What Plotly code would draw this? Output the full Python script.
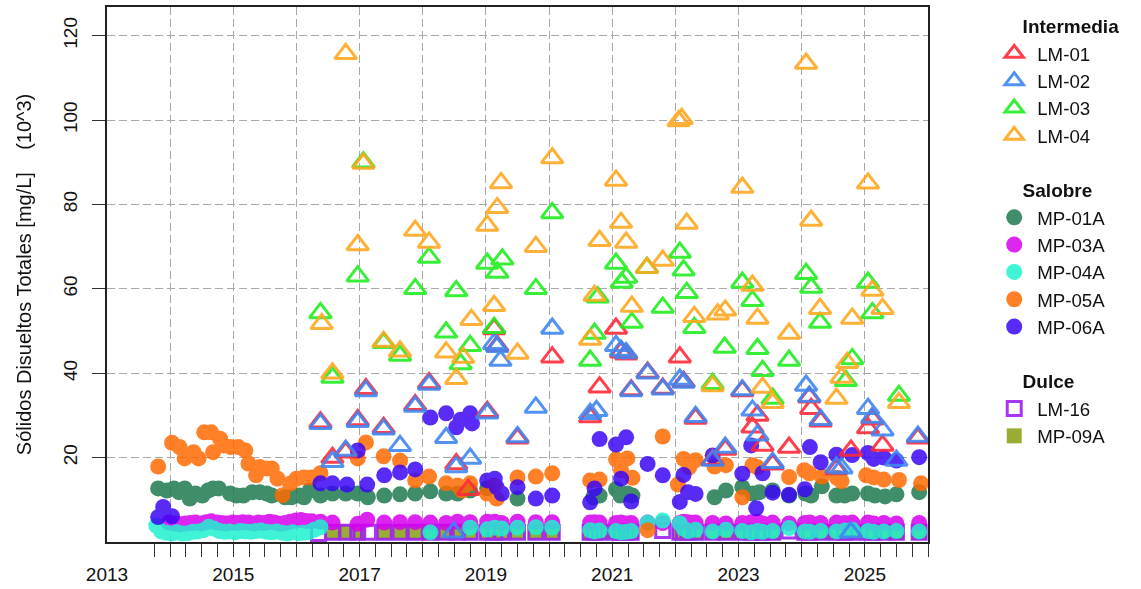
import plotly.graph_objects as go

# ---------------- DATA ----------------
lm01_x = [2016.38, 2016.57, 2016.78, 2016.97, 2017.10, 2017.38, 2017.88, 2018.10, 2018.53, 2018.72,
          2019.02, 2019.13, 2019.18, 2019.50, 2020.05, 2020.65, 2020.80, 2021.06, 2021.14, 2021.22,
          2021.30, 2021.56, 2021.80, 2022.07, 2022.13, 2022.32, 2022.59, 2022.79, 2023.06, 2023.22,
          2023.30, 2023.38, 2023.54, 2023.80, 2024.12, 2024.15, 2024.30, 2024.55, 2024.78, 2025.05,
          2025.12, 2025.28, 2025.84]
lm01_y = [28.4, 20.0, 21.3, 28.9, 36.3, 27.1, 32.5, 37.7, 18.5, 12.4,
          30.9, 50.5, 46.5, 24.6, 43.8, 29.6, 36.7, 50.6, 45.0, 44.5,
          36.0, 40.2, 36.4, 43.8, 38.0, 29.3, 19.5, 21.9, 35.8, 27.2,
          30.0, 22.9, 18.4, 22.4, 34.3, 31.6, 28.6, 17.3, 21.7, 27.0,
          29.1, 22.9, 24.6]

lm02_x = [2016.38, 2016.57, 2016.78, 2016.97, 2017.10, 2017.38, 2017.64, 2017.88, 2018.10, 2018.37,
          2018.49, 2018.53, 2018.75, 2019.02, 2019.13, 2019.18, 2019.23, 2019.50, 2019.79, 2020.05,
          2020.65, 2020.75, 2021.06, 2021.14, 2021.22, 2021.30, 2021.56, 2021.80, 2022.07, 2022.13,
          2022.32, 2022.59, 2022.79, 2023.06, 2023.22, 2023.30, 2023.54, 2024.07, 2024.12, 2024.30,
          2024.55, 2024.63, 2024.78, 2025.05, 2025.12, 2025.28, 2025.50, 2025.84]
lm02_y = [28.0, 19.0, 21.7, 28.5, 35.8, 26.7, 22.8, 32.1, 37.3, 24.7,
          2.3, 17.8, 19.8, 30.5, 47.0, 46.3, 43.0, 24.9, 31.9, 50.6,
          30.4, 31.1, 46.5, 45.4, 44.8, 35.8, 40.0, 36.2, 38.5, 37.8,
          29.7, 19.3, 22.4, 36.0, 31.2, 25.3, 18.8, 37.1, 34.5, 29.0,
          17.7, 17.5, 2.3, 31.6, 29.5, 26.5, 19.3, 25.0]

lm03_x = [2016.38, 2016.57, 2016.97, 2017.06, 2017.38, 2017.64, 2017.88, 2018.10, 2018.37, 2018.53,
          2018.60, 2018.75, 2019.02, 2019.13, 2019.18, 2019.26, 2019.79, 2020.05, 2020.65, 2020.72,
          2020.77, 2021.06, 2021.15, 2021.22, 2021.31, 2021.55, 2021.80, 2022.07, 2022.13, 2022.18,
          2022.30, 2022.59, 2022.78, 2023.06, 2023.22, 2023.30, 2023.38, 2023.54, 2023.80, 2024.07,
          2024.15, 2024.29, 2024.70, 2024.80, 2025.05, 2025.12, 2025.54]
lm03_y = [54.3, 39.0, 63.0, 90.0, 47.2, 44.2, 60.0, 67.4, 49.7, 59.5,
          42.2, 46.5, 66.0, 50.8, 63.9, 67.0, 60.0, 78.0, 43.0, 49.4,
          58.0, 66.0, 61.5, 62.7, 52.0, 65.0, 55.6, 68.6, 64.4, 59.1,
          50.8, 37.5, 46.1, 61.5, 57.2, 45.8, 40.6, 34.0, 43.0, 63.6,
          60.3, 52.0, 38.2, 43.4, 61.5, 54.3, 34.7]

lm04_x = [2016.40, 2016.57, 2016.78, 2016.97, 2017.06, 2017.38, 2017.64, 2017.88, 2018.10, 2018.37,
          2018.53, 2018.64, 2018.77, 2019.02, 2019.13, 2019.18, 2019.24, 2019.50, 2019.79, 2020.05,
          2020.65, 2020.72, 2020.80, 2021.06, 2021.14, 2021.22, 2021.31, 2021.55, 2021.80, 2022.05,
          2022.10, 2022.18, 2022.30, 2022.59, 2022.67, 2022.79, 2023.06, 2023.22, 2023.30, 2023.38,
          2023.54, 2023.80, 2024.07, 2024.15, 2024.29, 2024.55, 2024.63, 2024.72, 2024.80, 2025.05,
          2025.12, 2025.28, 2025.54]
lm04_y = [51.7, 40.0, 115.7, 70.4, 89.7, 47.5, 45.2, 73.8, 71.0, 45.0,
          38.7, 43.7, 52.7, 75.0, 56.0, 79.2, 85.1, 44.7, 70.0, 91.0,
          48.0, 58.4, 71.4, 85.7, 75.7, 71.0, 55.8, 65.0, 66.7, 99.8,
          100.3, 75.5, 53.4, 37.0, 54.0, 54.9, 84.0, 60.8, 53.0, 36.6,
          33.0, 49.4, 113.4, 76.2, 55.3, 34.0, 39.0, 42.5, 53.0, 85.0,
          59.6, 55.3, 33.0]

mp01a_x = [2013.81, 2013.95, 2014.06, 2014.14, 2014.23, 2014.31, 2014.40, 2014.51, 2014.60, 2014.68,
           2014.77, 2014.95, 2015.05, 2015.16, 2015.30, 2015.42, 2015.53, 2015.61, 2015.82, 2015.92,
           2016.04, 2016.12, 2016.21, 2016.38, 2016.57, 2016.78, 2016.97, 2017.13, 2017.39, 2017.64,
           2017.88, 2018.12, 2018.37, 2018.55, 2018.75, 2019.02, 2019.50, 2020.70, 2020.80, 2021.06,
           2021.13, 2021.24, 2021.32, 2022.62, 2022.80, 2023.06, 2023.22, 2023.33, 2023.54, 2023.80,
           2024.06, 2024.15, 2024.32, 2024.55, 2024.68, 2024.80, 2025.05, 2025.16, 2025.32, 2025.50,
           2025.86]
mp01a_y = [12.7, 12.2, 12.7, 11.8, 12.7, 10.3, 11.5, 11.0, 12.2, 12.7,
           12.7, 11.5, 11.0, 11.0, 11.8, 11.8, 11.5, 11.0, 10.6, 10.6,
           11.0, 10.6, 12.2, 11.0, 11.5, 11.5, 11.5, 10.6, 11.0, 11.3,
           11.5, 12.0, 11.5, 11.5, 12.2, 12.7, 10.3, 10.6, 11.0, 12.5,
           11.0, 11.5, 11.0, 10.6, 12.2, 13.0, 11.5, 11.8, 12.2, 11.0,
           11.5, 11.0, 13.2, 11.0, 11.0, 11.5, 11.5, 11.0, 10.8, 11.3,
           11.8]

mp03a_x = [2013.98, 2014.07, 2014.15, 2014.24, 2014.32, 2014.40, 2014.49, 2014.57, 2014.65, 2014.74,
           2014.82, 2014.90, 2014.99, 2015.07, 2015.15, 2015.24, 2015.32, 2015.40, 2015.49, 2015.57,
           2015.65, 2015.74, 2015.82, 2015.90, 2015.99, 2016.07, 2016.15, 2016.24,
           2016.38, 2016.57, 2016.97, 2017.12, 2017.39, 2017.64, 2017.88, 2018.12, 2018.37, 2018.55,
           2018.75, 2019.02, 2019.14, 2019.25, 2019.50, 2019.79, 2020.05, 2020.65, 2020.72, 2020.80,
           2021.06, 2021.14, 2021.22, 2021.30, 2021.56, 2021.80, 2022.07, 2022.13, 2022.20, 2022.32,
           2022.59, 2022.80, 2023.06, 2023.20, 2023.30, 2023.38, 2023.54, 2023.80, 2024.05, 2024.13,
           2024.30, 2024.55, 2024.68, 2024.80, 2025.05, 2025.14, 2025.30, 2025.50, 2025.86]
mp03a_y = [4.6, 4.4, 4.2, 4.4, 4.5, 4.6, 4.4, 4.7, 4.9, 4.6,
           4.5, 4.4, 4.6, 4.5, 4.7, 4.6, 4.4, 4.6, 4.5, 4.8,
           4.6, 4.3, 4.5, 4.8, 5.1, 5.2, 5.0, 4.9,
           4.8, 4.6, 4.3, 5.3, 4.6, 4.7, 4.7, 4.6, 4.5, 4.8,
           4.7, 4.8, 4.8, 4.5, 4.8, 4.7, 4.7, 4.6, 4.7, 4.6,
           4.5, 4.6, 4.4, 4.5, 4.6, 4.5, 4.5, 4.8, 4.7, 4.6,
           4.5, 4.4, 4.5, 4.7, 4.8, 4.4, 4.6, 4.4, 4.5, 4.6,
           4.5, 4.6, 4.5, 4.6, 4.6, 4.4, 4.5, 4.4, 4.5]

mp04a_x = [2013.78, 2013.86, 2013.94, 2014.03, 2014.11, 2014.19, 2014.28, 2014.36, 2014.44, 2014.53,
           2014.61, 2014.69, 2014.78, 2014.86, 2014.94, 2015.03, 2015.11, 2015.19, 2015.28, 2015.36,
           2015.44, 2015.53, 2015.61, 2015.69, 2015.78, 2015.86, 2015.94, 2016.03, 2016.11, 2016.19,
           2016.28, 2016.38,
           2018.12, 2018.75, 2019.02, 2019.14, 2019.25, 2019.50, 2019.79, 2020.05, 2020.65, 2020.72,
           2020.80, 2021.06, 2021.14, 2021.22, 2021.30, 2021.56, 2021.80, 2022.07, 2022.13, 2022.20,
           2022.32, 2022.59, 2022.80, 2023.06, 2023.20, 2023.30, 2023.38, 2023.54, 2023.80, 2024.05,
           2024.13, 2024.30, 2024.55, 2024.68, 2024.80, 2025.05, 2025.14, 2025.30, 2025.50, 2025.86]
mp04a_y = [3.9, 2.5, 2.2, 2.0, 2.3, 2.0, 2.1, 2.4, 2.5, 2.8,
           3.6, 3.2, 2.6, 2.4, 2.5, 2.3, 2.6, 2.5, 2.4, 2.6,
           2.7, 2.4, 2.3, 2.5, 2.2, 2.0, 2.3, 2.1, 2.2, 2.3,
           2.9, 3.5,
           2.3, 3.4, 3.0, 3.4, 3.2, 3.4, 3.5, 3.4, 2.8, 2.5,
           2.7, 2.6, 2.3, 2.4, 2.6, 4.6, 5.1, 4.4, 3.2, 2.6,
           2.9, 2.5, 2.9, 2.6, 2.3, 2.6, 2.4, 2.6, 3.3, 2.5,
           2.4, 2.6, 2.5, 2.7, 2.9, 2.6, 2.4, 2.5, 2.6, 2.5]

mp05a_x = [2013.81, 2014.03, 2014.15, 2014.23, 2014.37, 2014.45, 2014.54, 2014.65, 2014.68, 2014.79,
           2014.85, 2014.96, 2015.08, 2015.19, 2015.24, 2015.36, 2015.42, 2015.53, 2015.61, 2015.70,
           2015.78, 2015.90, 2016.00, 2016.12, 2016.23, 2016.38, 2016.97, 2017.10, 2017.38, 2017.64,
           2017.88, 2018.10, 2018.37, 2018.55, 2018.62, 2018.75, 2019.02, 2019.13, 2019.17, 2019.50,
           2019.79, 2020.05, 2020.65, 2020.80, 2021.06, 2021.14, 2021.24, 2021.32, 2021.56, 2021.80,
           2022.04, 2022.13, 2022.22, 2022.32, 2022.62, 2022.80, 2023.06, 2023.22, 2023.30, 2023.80,
           2024.04, 2024.12, 2024.32, 2024.56, 2024.63, 2025.02, 2025.14, 2025.30, 2025.54, 2025.89]
mp05a_y = [17.9, 23.5, 22.5, 19.8, 21.3, 19.8, 26.0, 26.0, 21.3, 24.5,
           22.9, 22.5, 22.5, 21.7, 18.6, 15.8, 17.8, 17.4, 17.4, 15.0,
           11.1, 13.8, 15.0, 15.3, 15.3, 16.3, 19.8, 23.6, 20.3, 19.3,
           14.6, 15.5, 13.9, 13.4, 12.2, 13.9, 11.5, 13.4, 10.3, 15.3,
           15.5, 16.3, 14.6, 14.8, 19.6, 17.0, 19.8, 15.2, 2.8, 25.0,
           13.6, 19.7, 17.7, 19.4, 17.9, 18.2, 10.6, 18.2, 17.7, 15.4,
           17.0, 16.3, 15.5, 15.2, 14.4, 15.8, 15.3, 14.8, 14.7, 13.9]

mp06a_x = [2013.81, 2013.89, 2014.03, 2016.38, 2016.57, 2016.80, 2016.97, 2017.12, 2017.39, 2017.64,
           2017.88, 2018.12, 2018.37, 2018.53, 2018.60, 2018.75, 2018.78, 2019.02, 2019.14, 2019.17,
           2019.25, 2019.50, 2019.79, 2020.05, 2020.65, 2020.72, 2020.80, 2021.06, 2021.14, 2021.22,
           2021.30, 2021.56, 2021.80, 2022.07, 2022.13, 2022.20, 2022.32, 2022.59, 2023.06, 2023.20,
           2023.28, 2023.38, 2023.54, 2023.80, 2024.05, 2024.13, 2024.30, 2024.55, 2024.80, 2025.05,
           2025.14, 2025.30, 2025.50, 2025.86]
mp06a_y = [5.9, 8.3, 6.1, 13.9, 13.9, 13.6, 21.7, 13.6, 15.8, 16.5,
           17.2, 29.5, 30.5, 27.2, 29.0, 30.5, 28.1, 14.6, 15.0, 13.0,
           11.5, 13.0, 10.3, 11.0, 9.4, 12.7, 24.4, 23.1, 15.0, 24.8,
           9.6, 18.5, 15.8, 9.5, 15.9, 11.8, 11.4, 20.5, 16.2, 22.9,
           8.0, 16.3, 11.7, 11.2, 12.5, 22.5, 18.9, 20.7, 20.6, 21.1,
           19.7, 20.0, 19.3, 20.1]

lm16_x = [2016.35, 2016.57, 2016.80, 2016.97, 2017.14, 2017.39, 2017.64, 2017.88, 2018.12, 2018.37,
          2018.55, 2018.75, 2019.02, 2019.14, 2019.25, 2019.50, 2019.79, 2020.05, 2020.65, 2020.72,
          2020.80, 2021.06, 2021.14, 2021.22, 2021.30, 2021.80, 2022.07, 2022.13, 2022.20, 2022.32,
          2022.59, 2022.80, 2023.06, 2023.20, 2023.30, 2023.38, 2023.54, 2023.80, 2024.05, 2024.13,
          2024.30, 2024.55, 2024.68, 2024.80, 2025.05, 2025.14, 2025.30, 2025.50, 2025.86]
lm16_y = [2.0, 2.3, 2.3, 2.3, 2.3, 2.3, 2.3, 2.3, 2.3, 2.3,
          2.3, 2.3, 2.3, 2.3, 2.3, 2.3, 2.3, 2.3, 2.3, 2.3,
          2.3, 2.3, 2.3, 2.3, 2.3, 2.7, 2.3, 2.3, 2.3, 2.3,
          2.3, 2.3, 2.3, 2.3, 2.3, 2.3, 2.3, 2.6, 2.3, 2.3,
          2.3, 2.3, 2.3, 2.3, 2.3, 2.3, 2.3, 2.3, 2.3]

mp09a_x = [2016.57, 2016.80, 2016.97, 2017.39, 2017.64, 2017.88, 2018.12, 2018.37, 2018.55, 2018.75,
           2019.02, 2019.14, 2019.25, 2019.50, 2019.79, 2020.05, 2020.65, 2020.72, 2020.80, 2021.06,
           2021.14, 2021.22, 2021.30, 2022.07, 2022.13, 2022.20, 2022.32, 2022.59, 2022.80, 2023.06,
           2023.20, 2023.30, 2023.38, 2023.54, 2024.05, 2024.13, 2024.30, 2024.55, 2024.68, 2024.80,
           2025.05, 2025.14, 2025.30, 2025.50, 2025.86]
mp09a_y = [2.3, 2.3, 2.2, 2.3, 2.4, 2.3, 2.2, 2.3, 2.4, 2.3,
           2.3, 2.2, 2.3, 2.4, 2.3, 2.3, 2.2, 2.3, 2.3, 2.4,
           2.3, 2.2, 2.3, 2.3, 2.4, 2.3, 2.2, 2.3, 2.3, 2.3,
           2.4, 2.3, 2.2, 2.3, 2.3, 2.4, 2.3, 2.2, 2.3, 2.3,
           2.3, 2.4, 2.3, 2.2, 2.3]

year_ticks = list(range(2013, 2026))
year_labels = ["2013", "", "2015", "", "2017", "", "2019", "", "2021", "", "2023", "", "2025"]
y_ticks = [20, 40, 60, 80, 100, 120]
y_labels = ["20", "40", "60", "80", "100", "120"]
quarter_ticks = [2013.75 + 0.25 * i for i in range(50)]

# ---------------- STYLE ----------------
FONT = "Liberation Sans, Arial, sans-serif"
NB = "\u00a0"

fig = go.Figure()

def gtitle(text):
    return dict(text=NB * 5 + "<b>" + text + "</b>", font=dict(size=19, family=FONT, color="#111"))

# drawn first (bottom): Dulce squares
fig.add_trace(go.Scatter(
    x=mp09a_x, y=mp09a_y, mode="markers", name="MP-09A", legendgroup="g3", legendrank=11,
    marker=dict(symbol="square", size=15, color="#8FA41E", line=dict(width=0)),
    opacity=0.9))
fig.add_trace(go.Scatter(
    x=lm16_x, y=lm16_y, mode="markers", name="LM-16", legendgroup="g3", legendrank=10,
    legendgrouptitle=gtitle("Dulce"),
    marker=dict(symbol="square-open", size=14, color="#A020F0", line=dict(width=3, color="#A020F0")),
    opacity=0.9))

def circ(name, x, y, color, rank, title=None):
    fig.add_trace(go.Scatter(
        x=x, y=y, mode="markers", name=name, legendgroup="g2", legendrank=rank,
        legendgrouptitle=gtitle(title) if title else None,
        marker=dict(symbol="circle", size=16, color=color, line=dict(width=0)),
        opacity=0.85))

circ("MP-01A", mp01a_x, mp01a_y, "#1E7A50", 5, "Salobre")
circ("MP-03A", mp03a_x, mp03a_y, "#D800F0", 6)
circ("MP-04A", mp04a_x, mp04a_y, "#1FF2CF", 7)
circ("MP-05A", mp05a_x, mp05a_y, "#FF6A00", 8)
circ("MP-06A", mp06a_x, mp06a_y, "#3A05F5", 9)

def tri(name, x, y, color, rank, title=None):
    fig.add_trace(go.Scatter(
        x=x, y=y, mode="markers", name=name, legendgroup="g1", legendrank=rank,
        legendgrouptitle=gtitle(title) if title else None,
        marker=dict(symbol="triangle-up-open", size=19, color=color,
                    line=dict(width=3, color=color)),
        opacity=0.9))

tri("LM-01", lm01_x, lm01_y, "#FF2A3A", 1, "Intermedia")
tri("LM-02", lm02_x, lm02_y, "#3F86F2", 2)
tri("LM-03", lm03_x, lm03_y, "#22EE22", 3)
tri("LM-04", lm04_x, lm04_y, "#FFA820", 4)

grid = dict(showgrid=True, gridcolor="#A8A8A8", gridwidth=1.3, griddash="8px,4px")

fig.update_layout(
    template="none",
    width=1141, height=589,
    margin=dict(l=107, r=213, t=7, b=47, pad=0),
    paper_bgcolor="white", plot_bgcolor="white",
    font=dict(family=FONT, size=19, color="#111"),
    xaxis=dict(range=[2013, 2026], tickmode="array", tickvals=year_ticks, ticktext=year_labels,
               ticks="outside", ticklen=13, tickcolor="rgba(0,0,0,0)",
               tickfont=dict(size=19), automargin=False, ticklabelstandoff=1,
               minor=dict(tickmode="array", tickvals=quarter_ticks, ticks="outside", ticklen=13,
                          tickcolor="#333", tickwidth=1, showgrid=False),
               showline=True, mirror=True, linecolor="#222", linewidth=1.5,
               zeroline=False, layer="above traces", **grid),
    yaxis=dict(range=[0, 126.8], tickmode="array", tickvals=y_ticks, ticktext=y_labels,
               ticks="outside", ticklen=13, tickcolor="#333", tickwidth=1, tickangle=-90,
               tickfont=dict(size=19), automargin=False, ticklabelstandoff=8,
               title=dict(text="Sólidos Disueltos Totales [mg/L]" + NB * 4 + "(10^3)",
                          font=dict(size=20), standoff=23),
               showline=True, mirror=True, linecolor="#222", linewidth=1.5,
               zeroline=False, layer="above traces", **grid),
    legend=dict(x=1.077, xanchor="left", y=1.0, yanchor="top",
                font=dict(size=18.7, family=FONT, color="#111"), tracegroupgap=27,
                traceorder="grouped", itemwidth=36,
                bgcolor="rgba(0,0,0,0)", borderwidth=0, itemsizing="trace"),
    showlegend=True,
)

fig.write_html("out.html", config={"displayModeBar": False},
               post_script="document.body.style.margin='0px';")
